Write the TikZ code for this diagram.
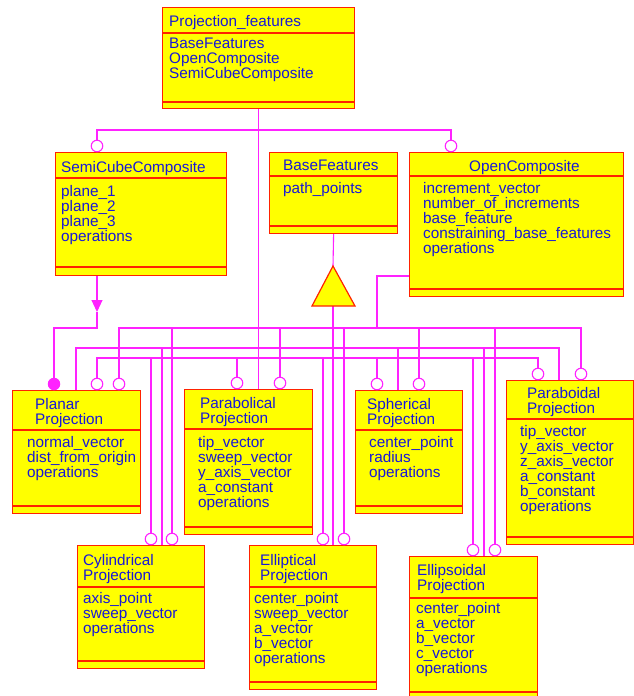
\documentclass[tikz,border=0pt]{standalone}
\usepackage{fontspec}
\setmainfont{Liberation Sans}
\usetikzlibrary{arrows.meta,calc,backgrounds}
\definecolor{clsyellow}{HTML}{FFFF00}
\definecolor{clsred}{HTML}{FF2200}
\definecolor{lnkmag}{HTML}{FF22FF}
\definecolor{txtblue}{HTML}{1818D8}
\tikzset{
  classbox/.style={draw=clsred, fill=clsyellow, line width=1.2pt, anchor=north west, inner sep=0pt},
  divider/.style={draw=clsred, line width=1.2pt},
  ctext/.style={font=\fontsize{15.3}{15}\selectfont, text=txtblue, align=left, inner sep=0pt, anchor=north west},
  link/.style={draw=lnkmag, line width=1.1pt},
  assoc/.style={circle, draw=lnkmag, fill=white, line width=1.1pt, inner sep=0pt, minimum size=11.5pt},
  aggr/.style={circle, fill=lnkmag, inner sep=0pt, minimum size=12.5pt},
}
% class box: name, x, y, width, height, title line, lower line
\newcommand{\umlclass}[7]{%
  \node[classbox, minimum width=#4pt, minimum height=#5pt] (#1) at (#2,#3) {};
  \draw[divider] ([yshift=-#6pt]#1.north west) -- ([yshift=-#6pt]#1.north east);
  \draw[divider] ([yshift=-#7pt]#1.north west) -- ([yshift=-#7pt]#1.north east);
}
\begin{document}
\begin{tikzpicture}[x=1pt, y=-1pt]
\useasboundingbox (0,0) rectangle (634,696);
% the classes
\umlclass{pf}{162}{7}{192}{101}{26}{95}
\umlclass{sc}{55}{152}{171}{123}{26}{115}
\umlclass{bf}{269}{152}{128}{81}{24}{74}
\umlclass{oc}{409}{152}{214}{144}{24}{137}
\umlclass{planar}{12}{390}{128}{123}{40}{116}
\umlclass{parab}{184}{389}{128}{145}{40}{138}
\umlclass{sph}{355}{390}{107}{123}{40}{116}
\umlclass{parabd}{506}{380}{127}{164}{39}{157}
\umlclass{cyl}{77}{545}{127}{123}{42}{116}
\umlclass{ell}{249}{545}{127}{144}{42}{137}
\umlclass{ellips}{409}{556}{128}{140}{42}{136}
% their texts
\node[ctext] at (169,15) {Projection\_features};
\node[ctext] at (169,38) {BaseFeatures\\OpenComposite\\SemiCubeComposite};
\node[ctext] at (61,161) {SemiCubeComposite};
\node[ctext] at (61,185) {plane\_1\\plane\_2\\plane\_3\\operations};
\node[ctext] at (283,160) {BaseFeatures};
\node[ctext] at (283,182) {path\_points};
\node[ctext] at (469,160) {OpenComposite};
\node[ctext] at (423,182) {increment\_vector\\number\_of\_increments\\base\_feature\\constraining\_base\_features\\operations};
\node[ctext] at (35,398) {Planar\\Projection};
\node[ctext] at (27,436) {normal\_vector\\dist\_from\_origin\\operations};
\node[ctext] at (200,397) {Parabolical\\Projection};
\node[ctext] at (198,436) {tip\_vector\\sweep\_vector\\y\_axis\_vector\\a\_constant\\operations};
\node[ctext] at (367,398) {Spherical\\Projection};
\node[ctext] at (369,436) {center\_point\\radius\\operations};
\node[ctext] at (527,387) {Paraboidal\\Projection};
\node[ctext] at (520,425) {tip\_vector\\y\_axis\_vector\\z\_axis\_vector\\a\_constant\\b\_constant\\operations};
\node[ctext] at (83,554) {Cylindrical\\Projection};
\node[ctext] at (83,592) {axis\_point\\sweep\_vector\\operations};
\node[ctext] at (260,554) {Elliptical\\Projection};
\node[ctext] at (254,592) {center\_point\\sweep\_vector\\a\_vector\\b\_vector\\operations};
\node[ctext] at (417,564) {Ellipsoidal\\Projection};
\node[ctext] at (416,602) {center\_point\\a\_vector\\b\_vector\\c\_vector\\operations};
% generalization triangle
\coordinate (genTop) at (333,266);
\coordinate (genBase) at (333,306);
\draw[divider, fill=clsyellow] (genTop) -- (355,306) -- (312,306) -- cycle;
% ends on the box tops
\node[assoc] (scTop) at (97,146) {};
\node[assoc] (ocTop) at (451,146) {};
\node[aggr] (planarDot) at (54,384) {};
\node[assoc] (planarC) at (97,384) {};
\node[assoc] (planarA) at (119,384) {};
\node[assoc] (parabC) at (237,383) {};
\node[assoc] (parabA) at (280,383) {};
\node[assoc] (sphC) at (377,384) {};
\node[assoc] (sphA) at (419,384) {};
\node[assoc] (parabdC) at (538,374) {};
\node[assoc] (parabdA) at (581,374) {};
\node[assoc] (cylC) at (151,539) {};
\node[assoc] (cylA) at (172,539) {};
\node[assoc] (ellC) at (323,539) {};
\node[assoc] (ellA) at (344,539) {};
\node[assoc] (ellipsC) at (473,550) {};
\node[assoc] (ellipsA) at (495,550) {};
\coordinate (planarI) at (76,390);
\coordinate (sphI) at (398,390);
\coordinate (parabdI) at (559,380);
\coordinate (cylI) at (162,545);
\coordinate (ellipsI) at (484,556);
\coordinate (ocLeft) at (409,276);
\coordinate (scTip) at (97,312);
% bus heights
\coordinate (topBus) at (0,130);
\coordinate (busA) at (0,328);
\coordinate (busB) at (0,348);
\coordinate (busC) at (0,358);
\begin{scope}[on background layer]
\draw[link] (scTop) -- (scTop |- topBus) -- (ocTop |- topBus) -- (ocTop);
\draw[link] (pf.south) -- (pf.south |- parab.north);
\draw[link, -{Triangle[length=12pt,width=11pt]}] (sc.south -| scTop) -- (scTip);
\draw[link] (scTip) |- (planarDot |- busA) -- (planarDot);
\draw[link] (bf.south) -- (genTop);
\draw[link] (genBase) -- (genBase |- ell.north);
% bus A
\draw[link] (planarA) |- (parabdA |- busA) -- (parabdA);
\foreach \e in {cylA, parabA, ellA, sphA, ellipsA}
  \draw[link] (\e) -- (\e |- busA);
\draw[link] (ocLeft) -| (sphC |- busA);
% bus B
\draw[link] (planarI) |- (parabdI |- busB) -- (parabdI);
\foreach \e in {cylI, sphI, ellipsI}
  \draw[link] (\e) -- (\e |- busB);
% bus C
\draw[link] (planarC) |- (parabdC |- busC) -- (parabdC);
\foreach \e in {cylC, parabC, ellC, sphC, ellipsC}
  \draw[link] (\e) -- (\e |- busC);
\end{scope}
\end{tikzpicture}
\end{document}
